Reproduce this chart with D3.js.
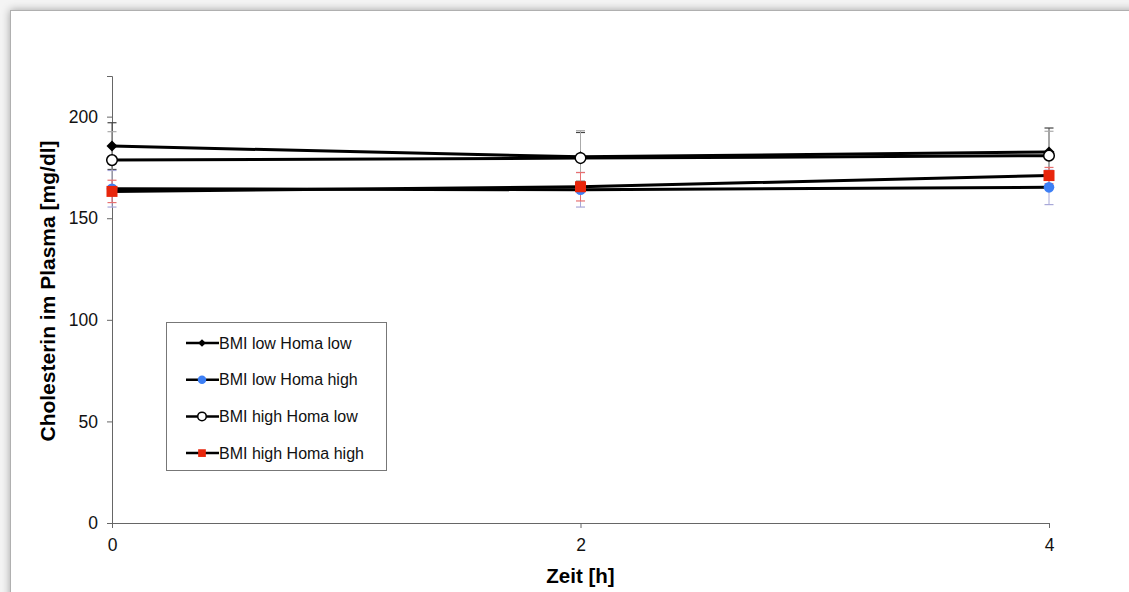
<!DOCTYPE html>
<html>
<head>
<meta charset="utf-8">
<script src="https://cdn.jsdelivr.net/npm/d3@7"></script>
<style>
  body { margin: 0; background: #f4f4f4; }
  svg { display: block; font-family: "Liberation Sans", Arial, sans-serif; }
</style>
</head>
<body>
<div id="vis"></div>
<script>
const width = 1129;
const height = 592;

// Data
const times = [0, 2, 4];
const seriesNames = ["BMI low Homa low", "BMI low Homa high", "BMI high Homa low", "BMI high Homa high"];
const lowLowValues = [185.5, 180.2, 182.6];
const lowLowErrors = [11.5, 12, 11.8];
const lowHighValues = [164.5, 164, 165.2];
const lowHighErrors = [9, 8.5, 8.5];
const highLowValues = [178.6, 179.6, 180.8];
const highLowErrors = [14, 13.5, 12];
const highHighValues = [163.2, 165.5, 171];
const highHighErrors = [5.5, 7, 4];
const yTicks = [0, 50, 100, 150, 200];

const series = [
    { name: seriesNames[0], values: lowLowValues, errors: lowLowErrors, marker: "diamond", fill: "#000", errColor: "#444" },
    { name: seriesNames[1], values: lowHighValues, errors: lowHighErrors, marker: "circle", fill: "#3d7ff5", errColor: "#a8a8d8" },
    { name: seriesNames[2], values: highLowValues, errors: highLowErrors, marker: "circle", fill: "#fff", errColor: "#aaa" },
    { name: seriesNames[3], values: highHighValues, errors: highHighErrors, marker: "square", fill: "#e8260c", errColor: "#e87070" }
];

const svg = d3.select("#vis")
    .append("svg")
    .attr("width", width)
    .attr("height", height);

// page frame with shadow
const defs = svg.append("defs");
const f = defs.append("filter").attr("id", "shadow").attr("x", "-5%").attr("y", "-5%").attr("width", "110%").attr("height", "110%");
f.append("feDropShadow").attr("dx", 0).attr("dy", 0).attr("stdDeviation", 4).attr("flood-color", "#000").attr("flood-opacity", 0.35);

svg.append("rect")
    .attr("x", 10.5).attr("y", 10.5)
    .attr("width", width + 20).attr("height", height + 20)
    .attr("fill", "#fff")
    .attr("stroke", "#b0b0b0")
    .attr("filter", "url(#shadow)");

const x = d3.scaleLinear().domain([0, 4]).range([112, 1049]);
const y = d3.scaleLinear().domain([0, 220]).range([523, 76]);

// axes
const yAxis = svg.append("g")
    .attr("transform", "translate(112,0)")
    .call(d3.axisLeft(y).tickValues(yTicks).tickSize(5).tickPadding(9));
const xAxis = svg.append("g")
    .attr("transform", "translate(0,523)")
    .call(d3.axisBottom(x).tickValues(times).tickFormat(d3.format("d")).tickSize(5).tickPadding(11));

[xAxis, yAxis].forEach(ax => {
    ax.select(".domain").attr("stroke", "#666");
    ax.selectAll(".tick line").attr("stroke", "#666");
    ax.selectAll(".tick text").attr("font-size", 17.5).attr("fill", "#111")
        .attr("font-family", "'Liberation Sans', Arial, sans-serif");
});

// axis titles
svg.append("text")
    .attr("x", x(2)).attr("y", 583)
    .attr("text-anchor", "middle")
    .attr("font-size", 20.5).attr("font-weight", "bold")
    .text("Zeit [h]");

svg.append("text")
    .attr("transform", `translate(55,291) rotate(-90)`)
    .attr("text-anchor", "middle")
    .attr("font-size", 21).attr("font-weight", "bold")
    .text("Cholesterin im Plasma [mg/dl]");

// error bars
series.forEach(s => {
    const g = svg.append("g");
    times.forEach((t, i) => {
        const cx = x(t);
        const top = y(s.values[i] + s.errors[i]);
        const bot = y(s.values[i] - s.errors[i]);
        g.append("line").attr("x1", cx).attr("x2", cx).attr("y1", top).attr("y2", bot)
            .attr("stroke", s.errColor).attr("stroke-width", 1);
        [top, bot].forEach(yy => {
            g.append("line").attr("x1", cx - 4.5).attr("x2", cx + 4.5).attr("y1", yy).attr("y2", yy)
                .attr("stroke", s.errColor).attr("stroke-width", 1.2);
        });
    });
});

const line = d3.line().x((d, i) => x(times[i])).y(d => y(d));

function drawMarker(g, s, cx, cy, scale) {
    if (s.marker === "diamond") {
        const r = 5.5 * scale;
        g.append("path")
            .attr("d", `M${cx},${cy - r}L${cx + r},${cy}L${cx},${cy + r}L${cx - r},${cy}Z`)
            .attr("fill", s.fill);
    } else if (s.marker === "square") {
        const r = 5.5 * scale;
        g.append("rect").attr("x", cx - r).attr("y", cy - r).attr("width", 2 * r).attr("height", 2 * r)
            .attr("fill", s.fill);
    } else {
        g.append("circle").attr("cx", cx).attr("cy", cy).attr("r", 5.3 * scale)
            .attr("fill", s.fill)
            .attr("stroke", s.fill === "#fff" ? "#000" : "none")
            .attr("stroke-width", 1.5);
    }
}

// lines + markers
series.forEach(s => {
    const g = svg.append("g");
    g.append("path")
        .datum(s.values)
        .attr("d", line)
        .attr("fill", "none")
        .attr("stroke", "#000")
        .attr("stroke-width", 3);
    s.values.forEach((v, i) => drawMarker(g, s, x(times[i]), y(v), 1));
});

// legend
const legend = svg.append("g").attr("transform", "translate(166,322)");
legend.append("rect")
    .attr("x", 0.5).attr("y", 0.5).attr("width", 220).attr("height", 148)
    .attr("fill", "#fff").attr("stroke", "#777");

series.forEach((s, i) => {
    const ly = 21 + i * 36.7;
    const g = legend.append("g");
    g.append("line").attr("x1", 20).attr("x2", 53).attr("y1", ly).attr("y2", ly)
        .attr("stroke", "#000").attr("stroke-width", 2.5);
    drawMarker(g, s, 36, ly, s.marker === "circle" ? 0.8 : 0.7);
    g.append("text").attr("x", 53).attr("y", ly).attr("dy", "0.35em")
        .attr("font-size", 16).attr("fill", "#111")
        .text(s.name);
});
</script>
</body>
</html>
